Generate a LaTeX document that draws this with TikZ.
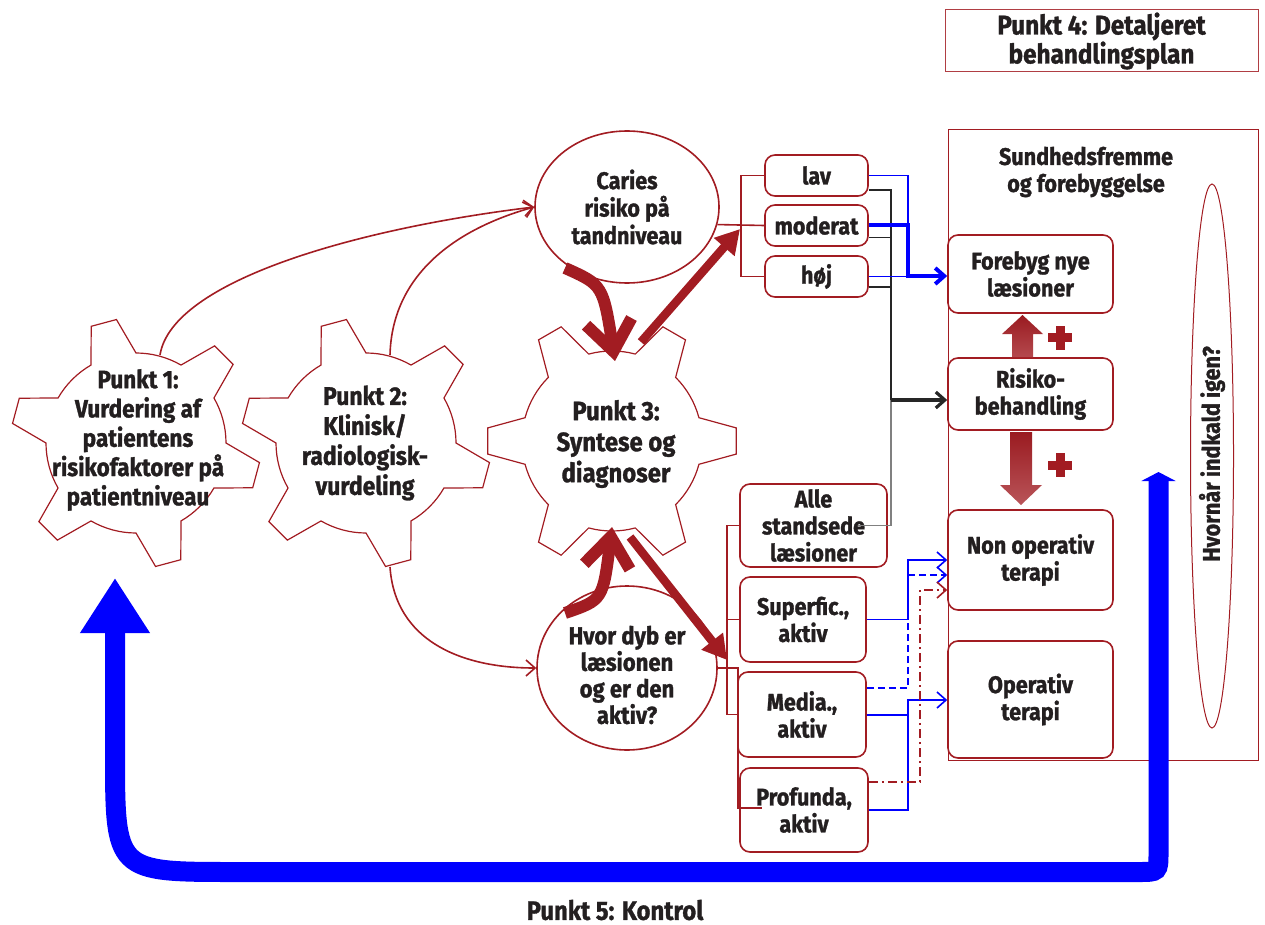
\documentclass[tikz,border=0pt]{standalone}
\usepackage{fontspec}
\setmainfont{Fira Sans}[FakeStretch=0.9, BoldFeatures={FakeBold=1.2}]
\usetikzlibrary{arrows.meta,shapes.geometric}
\definecolor{dred}{HTML}{A21C22}
\definecolor{txtc}{HTML}{231F20}
\definecolor{bblue}{HTML}{0000FF}
\definecolor{gline}{HTML}{808080}
\newcommand\mygear[3]{%
  \begin{scope}[shift={(#1,#2)}]
  \draw[gearline] (#3-15:90) \foreach \k in {0,...,5}{ -- ({#3+60*\k-6}:125) -- ({#3+60*\k+6}:125) -- ({#3+60*\k+15}:90) arc[start angle={#3+60*\k+15}, end angle={#3+60*\k+45}, radius=90] } -- cycle;
  \end{scope}}
\tikzset{
  lbl/.style={font=\bfseries\fontsize{24}{27}\selectfont, text=txtc, align=center},
  rbox/.style={lbl, draw=dred, line width=1.6pt, rounded corners=10pt, fill=white, inner sep=0pt},
  gearline/.style={draw=dred, line width=1.2pt},
  thinred/.style={draw=dred, line width=1.6pt},
  blthin/.style={draw=bblue, line width=1.6pt},
  blthick/.style={draw=bblue, line width=4pt},
  bkthin/.style={draw=black!85, line width=1.6pt},
  barb/.style={-{Straight Barb[length=9pt,width=16pt]}},
  bigbarb/.style={-{Straight Barb[length=30pt,width=46pt]}},
  bigtri/.style={-{Triangle[length=24pt,width=26pt]}},
}
\begin{document}
\begin{tikzpicture}[x=1pt,y=-1pt]
\useasboundingbox (0,0) rectangle (1265,925);

% gears
\mygear{136}{443}{15}
\mygear{366}{443}{15}
\mygear{612}{441}{0}
\node[lbl, font=\bfseries\fontsize{25}{29.3}\selectfont] (g1) at (138,440) {Punkt 1:\\Vurdering af\\patientens\\risikofaktorer på\\patientniveau};
\node[lbl, font=\bfseries\fontsize{25.5}{30}\selectfont] (g2) at (365,443) {Punkt 2:\\Klinisk/\\radiologisk-\\vurdeling};
\node[lbl, font=\bfseries\fontsize{26.5}{31}\selectfont] (g3) at (616,444) {Punkt 3:\\Syntese og\\diagnoser};

% ellipses
\node[ellipse, draw=dred, line width=1.6pt, fill=white, minimum width=184, minimum height=152, lbl, inner sep=0pt, font=\bfseries\fontsize{24}{27.5}\selectfont] (car) at (627,207) {Caries\\risiko på\\tandniveau};
\node[ellipse, draw=dred, line width=1.6pt, fill=white, minimum width=180, minimum height=164, inner sep=0pt] (hd) at (627,668) {};
\node[lbl, font=\bfseries\fontsize{24.5}{26.5}\selectfont] (hdt) at (627,675) {Hvor dyb er\\læsionen\\og er den\\aktiv?};

% plan boxes
\node[draw=dred!85, line width=1pt, minimum width=313, minimum height=62, inner sep=0pt, lbl, font=\bfseries\fontsize{27}{29}\selectfont] (p4) at (1101.5,41) {Punkt 4: Detaljeret\\behandlingsplan};
\node[draw=dred, line width=1pt, minimum width=310, minimum height=630, inner sep=0pt] (plan) at (1103,445) {};
\node[lbl] (sund) at (1086,172) {Sundhedsfremme\\og forebyggelse};
\node[ellipse, draw=dred, line width=1pt, minimum width=43, minimum height=544, inner sep=0pt] (hv) at (1212,456) {};
\node[lbl, rotate=90] (hvt) at (1212,454) {Hvornår indkald igen?};

% small boxes
\node[rbox, minimum width=103, minimum height=41] (lav) at (816.5,175.5) {lav};
\node[rbox, minimum width=103, minimum height=41] (mod) at (816.5,225.5) {moderat};
\node[rbox, minimum width=103, minimum height=41] (hoj) at (816.5,276.5) {høj};
\node[rbox, minimum width=147, minimum height=83] (alle) at (813.5,525.5) {Alle\\standsede\\læsioner};
\node[rbox, minimum width=126, minimum height=85] (sup) at (803,619.5) {Superfic.,\\aktiv};
\node[rbox, minimum width=128, minimum height=85] (med) at (802,714.5) {Media.,\\aktiv};
\node[rbox, minimum width=128, minimum height=84] (prof) at (804,810) {Profunda,\\aktiv};
\node[rbox, minimum width=165, minimum height=78] (fore) at (1030.5,274) {Forebyg nye\\læsioner};
\node[rbox, minimum width=165, minimum height=72] (risk) at (1030.5,394) {Risiko-\\behandling};
\node[rbox, minimum width=165, minimum height=100] (nonop) at (1030.5,560) {Non operativ\\terapi};
\node[rbox, minimum width=165, minimum height=117] (op) at (1030.5,699.5) {Operativ\\terapi};

% block arrows and plus signs
\shade[top color=dred!95!black, bottom color=dred!80] (1012,357) -- (1012,334) -- (1002,334) -- (1022.5,315) -- (1043,334) -- (1033,334) -- (1033,357) -- cycle;
\shade[top color=dred!95!black, bottom color=dred!75] (1010,432) -- (1032,432) -- (1032,485) -- (1042,485) -- (1021,505) -- (1000,485) -- (1010,485) -- cycle;
\fill[dred] (1048,333) rectangle (1072,342);
\fill[dred] (1055.5,325.5) rectangle (1064.5,349.5);
\fill[dred] (1048,460.5) rectangle (1072,469.5);
\fill[dred] (1055.5,453) rectangle (1064.5,477);

% thin red curved connectors
\coordinate (g1top) at (160,355);
\coordinate (g2top) at (390,355);
\coordinate (g2bot) at (390,567);
\draw[thinred, barb] (g1top) .. controls (172,280) and (360,228) .. (car.west);
\draw[thinred, barb] (g2top) .. controls (392,275) and (455,229) .. (car.west);
\draw[thinred, barb] (g2bot) .. controls (395,640) and (460,668) .. (hd.west);

% thick red arrows
\coordinate (carb) at (565,268);
\coordinate (g3t) at (615,361);
\coordinate (g3tr) at (641,342);
\coordinate (topbr) at (740,229);
\coordinate (hdt0) at (565,613);
\coordinate (g3b) at (612,527);
\coordinate (g3br) at (630,537);
\coordinate (botbr) at (727,660);
\draw[draw=dred, line width=12pt, bigbarb] (carb) .. controls (603,285) .. (g3t);
\draw[draw=dred, line width=12pt, bigbarb] (hdt0) .. controls (603,600) .. (g3b);
\draw[draw=dred, line width=8.5pt, bigtri] (g3tr) -- (topbr);
\draw[draw=dred, line width=8.5pt, bigtri] (g3br) -- (botbr);

% red brackets
\draw[thinred] (car.-11.6) -- (mod.west);
\draw[thinred] (lav.west) -- ++(-23,0) |- (hoj.west);
\draw[thinred] (alle.west) -- (727,525.5) |- (med.west);
\draw[thinred] (sup.west) -- (727,619.5);
\draw[thinred] (hd.east) -- (738,668) -- (738,808) -- (762,808);

% top right connectors
\draw[blthin] (lav.east) -| (908,276);
\draw[bkthin] ([yshift=-14.5pt]lav.east) -| (891,400);
\draw[bkthin] ([yshift=-12pt]mod.east) -- (891,237.5);
\draw[bkthin] ([yshift=-10.5pt]hoj.east) -- (891,287);
\draw[draw=gline, line width=1.6pt] ([xshift=-30pt]alle.east) -| (891,400);
\draw[draw=black!85, line width=3.2pt, barb] (891,400) -- (risk.west |- 0,400);
\draw[blthin] (hoj.east) -- (908,276.5);
\draw[blthick, barb] (mod.east) -| (908,276) -- (fore.west |- 0,276);

% lower connectors
\draw[blthin, barb] (sup.east) -| (908,560) -- (nonop.west |- 0,560);
\draw[blthin, dash pattern=on 7pt off 4pt, barb] ([yshift=26.5pt]med.east) -| (908,575) -- (nonop.west |- 0,575);
\draw[blthin, barb] ([yshift=-0.5pt]med.east) -| (908,700) -- (op.west |- 0,700);
\draw[blthin] (prof.east) -| (908,700);
\draw[thinred, dash pattern=on 9pt off 4pt on 2pt off 4pt, barb] ([yshift=28pt]prof.east) -| (920,590) -- (nonop.west |- 0,590);

% blue control loop
\coordinate (loopS) at (1158.5,472);
\coordinate (loopE) at (115,578);
\draw[draw=bblue, line width=20pt, {Triangle[width=34pt,length=9pt]}-{Triangle[width=66pt,length=55pt]}] (loopS) -- (1158.5,852) .. controls (1158.5,872) .. (1138.5,872) -- (235,872) .. controls (115,872) .. (115,752) -- (loopE);

\node[lbl, inner sep=0pt, font=\bfseries\fontsize{26.5}{29}\selectfont] (p5) at (615,910) {Punkt 5: Kontrol};
\end{tikzpicture}
\end{document}
